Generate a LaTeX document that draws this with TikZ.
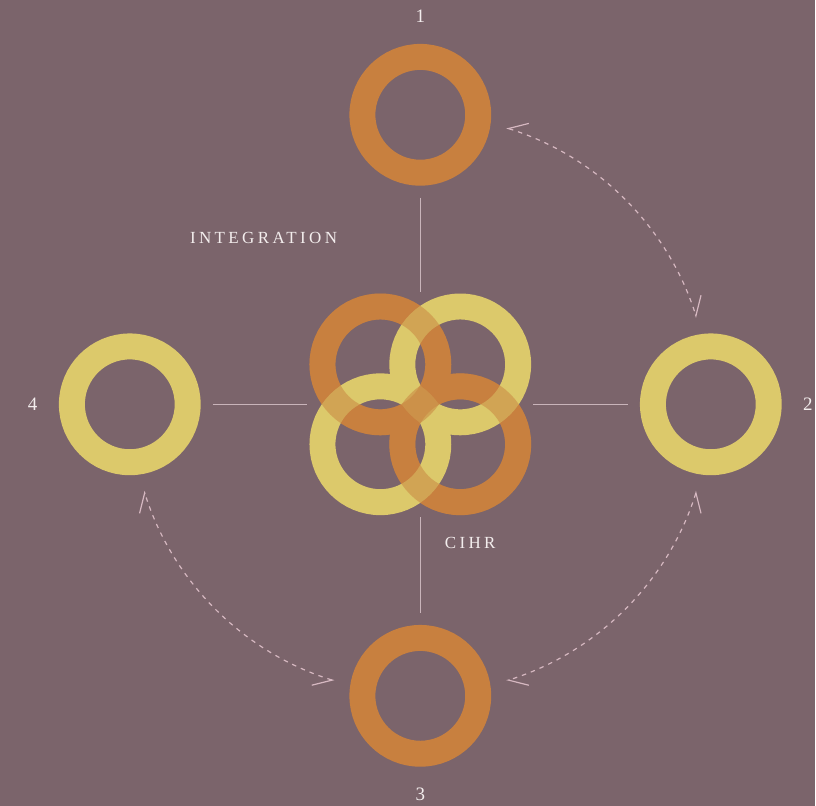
\documentclass[tikz,border=0pt]{standalone}
\usepackage{fontspec}
\usepackage{tikz}
\usetikzlibrary{arrows.meta, positioning}

\newfontfamily\capsfont[LetterSpace=20]{Liberation Serif}
\newfontfamily\numfont{Liberation Serif}

\definecolor{plum}{HTML}{7B646B}
\definecolor{ochre}{HTML}{C8803F}
\definecolor{mustard}{HTML}{DCC96B}
\definecolor{spokegray}{HTML}{C9B4BA}
\definecolor{dashpink}{HTML}{D6B8C1}
\definecolor{paper}{HTML}{F3EDED}

\begin{document}
\begin{tikzpicture}[
    x=1pt, y=1pt,
    ring/.style={draw, circle, line width=26pt, minimum size=116pt, inner sep=0pt},
    glaze/.style={draw=ochre, line width=26pt, draw opacity=0.5},
    spoke/.style={draw=spokegray, line width=1.3pt, shorten <=12pt},
    cyclearrow/.style={draw=dashpink, line width=1.2pt, dash pattern=on 4.5pt off 5pt,
        {Straight Barb[right, length=18pt, width=22pt]}-{Straight Barb[left, length=18pt, width=22pt]}},
    num/.style={text=paper, font=\numfont\fontsize{19}{19}\selectfont},
    caption/.style={text=paper, font=\capsfont\fontsize{17}{17}\selectfont},
    node distance=18pt
]
    % Background
    \fill[plum] (0,0) rectangle (816,807);

    % Hub area
    \node[minimum size=226pt, inner sep=0pt, outer sep=0pt] (hub) at (421,402) {};

    % Central rings
    \node[ring, draw=ochre] (hubtl) at (381,442) {};
    \node[ring, draw=ochre] (hubbr) at (461,362) {};
    \node[ring, draw=mustard] (hubtr) at (461,442) {};
    \node[ring, draw=mustard] (hubbl) at (381,362) {};
    % overlaps
    \draw[glaze] (hubtl.center) circle[radius=58];
    \draw[glaze] (hubbr.center) circle[radius=58];

    % Outer rings
    \node[ring, draw=ochre] (r1) at (421,692) {};
    \node[ring, draw=mustard] (r2) at (712,402) {};
    \node[ring, draw=ochre] (r3) at (421,110) {};
    \node[ring, draw=mustard] (r4) at (130,402) {};

    % Numbers
    \node[num, above=of r1] (n1) {1};
    \node[num, right=of r2] (n2) {2};
    \node[num, below=of r3] (n3) {3};
    \node[num, left=of r4] (n4) {4};

    % Spokes
    \draw[spoke] (r1) -- (hub);
    \draw[spoke] (r2) -- (hub);
    \draw[spoke] (r3) -- (hub);
    \draw[spoke] (r4) -- (hub);

    % Labels
    \node[caption] (integ) at (264,569) {INTEGRATION};
    \node[caption] (cihr) at (471,263) {CIHR};

    % Dashed cycle arcs
    \draw[cyclearrow] ([shift={(72.7:290)}]hub.center) arc[start angle=72.7, end angle=17.4, radius=290];
    \draw[cyclearrow] ([shift={(-17.4:290)}]hub.center) arc[start angle=-17.4, end angle=-72.7, radius=290];
    \draw[cyclearrow] ([shift={(-107.3:290)}]hub.center) arc[start angle=-107.3, end angle=-162.6, radius=290];

\end{tikzpicture}
\end{document}
